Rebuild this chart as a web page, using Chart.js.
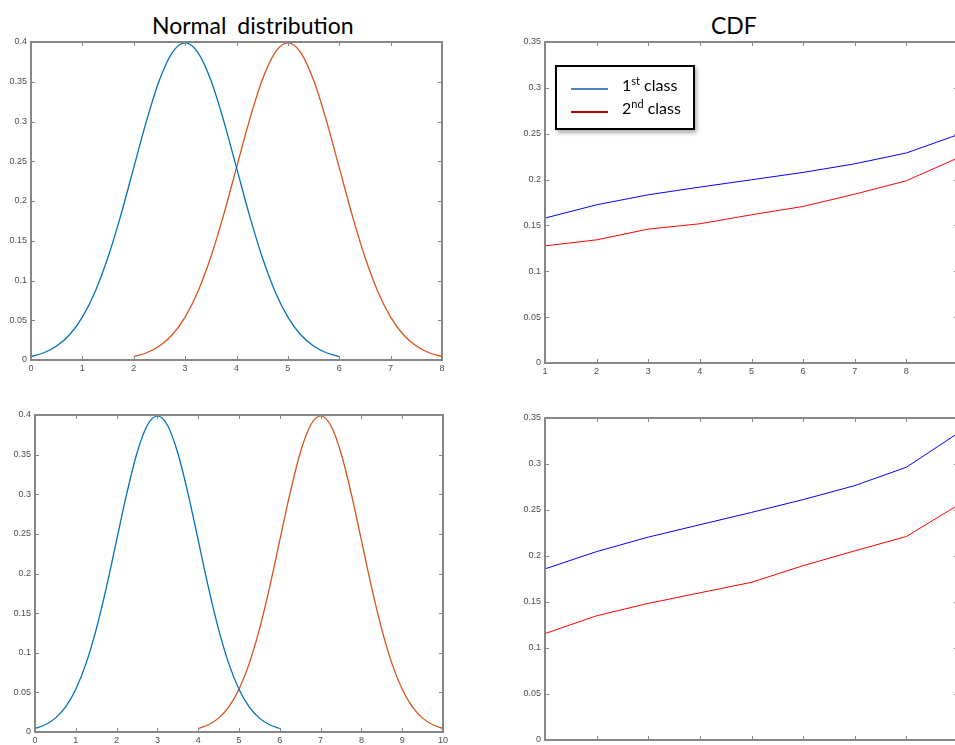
<!DOCTYPE html>
<html>
<head>
<meta charset="utf-8">
<script src="https://cdn.jsdelivr.net/npm/chart.js@4.4.1/dist/chart.umd.min.js"></script>
<style>
    html, body { margin: 0; padding: 0; background: #fff; width: 955px; height: 745px; overflow: hidden; }
    canvas { position: absolute; }
    .title { position: absolute; font-family: Lato, sans-serif; font-size: 23px; line-height: 1; color: #000; white-space: nowrap; word-spacing: 5px; }
    #legend { position: absolute; left: 555px; top: 65px; width: 140px; height: 65px; box-sizing: border-box;
              border: 2px solid #000; background: #fff; box-shadow: 2px 3px 4px rgba(0,0,0,0.3);
              font-family: Lato, sans-serif; font-size: 16px; color: #000; }
    #legend .swatch { position: absolute; left: 14px; width: 37px; height: 2px; }
    #legend .lbl { position: absolute; left: 65px; line-height: 1; white-space: nowrap; }
    #legend .sup { font-size: 11px; vertical-align: 6px; line-height: 0; }
</style>
</head>
<body>
<div class="title" style="left:152px; top:14px">Normal distribution</div>
<div class="title" style="left:711px; top:14px">CDF</div>
<canvas id="topLeft"></canvas>
<canvas id="topRight"></canvas>
<canvas id="bottomLeft"></canvas>
<canvas id="bottomRight"></canvas>
<div id="legend"></div>
<script>
// -------------------------------------------- data
// offsets from the mean, and the bell curve height
const pdfOffsets = [-3, -2.75, -2.5, -2.25, -2, -1.75, -1.5, -1.25, -1, -0.75, -0.5, -0.25, 0,
                    0.25, 0.5, 0.75, 1, 1.25, 1.5, 1.75, 2, 2.25, 2.5, 2.75, 3];
const pdfValues = [0.0044, 0.0091, 0.0175, 0.0317, 0.054, 0.0863, 0.1295, 0.1826, 0.242, 0.3011, 0.3521, 0.3867, 0.3989,
                   0.3867, 0.3521, 0.3011, 0.242, 0.1826, 0.1295, 0.0863, 0.054, 0.0317, 0.0175, 0.0091, 0.0044];
const topMeans = [3, 5];
const bottomMeans = [3, 7];

const cdfX = [1, 2, 3, 4, 5, 6, 7, 8, 9];
const cdfTopFirst = [0.158, 0.1725, 0.1834, 0.1918, 0.1998, 0.2078, 0.2172, 0.229, 0.249];
const cdfTopSecond = [0.1277, 0.1343, 0.146, 0.1518, 0.1616, 0.1707, 0.1841, 0.1987, 0.2237];
const cdfBottomFirst = [0.186, 0.2048, 0.2205, 0.234, 0.2474, 0.2613, 0.2765, 0.2965, 0.3335];
const cdfBottomSecond = [0.1157, 0.135, 0.1485, 0.16, 0.1714, 0.1895, 0.2056, 0.2212, 0.2553];

const classNums = ['1', '2'];
const classSuffix = ['st', 'nd'];
const classNames = ['class', 'class'];

const curveColors = ['#0072BD', '#D95319'];
const cdfColors = ['#0000FF', '#FF0000'];
const legendColors = ['#4F81BD', '#C00000'];

// -------------------------------------------- helpers
const tickFont = { family: 'Liberation Sans', size: 9 };
const tickColor = '#4d4d4d';

// matlab style box with inward ticks on every side
const boxTicks = {
    id: 'boxTicks',
    afterDraw(chart) {
        const { ctx, chartArea: a, scales: { x, y } } = chart;
        ctx.save();
        ctx.strokeStyle = '#868686';
        ctx.lineWidth = 1;
        ctx.beginPath();
        x.ticks.forEach(t => {
            const px = Math.round(x.getPixelForValue(t.value)) + 0.5;
            ctx.moveTo(px, a.bottom); ctx.lineTo(px, a.bottom - 4);
            ctx.moveTo(px, a.top); ctx.lineTo(px, a.top + 4);
        });
        y.ticks.forEach(t => {
            const py = Math.round(y.getPixelForValue(t.value)) + 0.5;
            ctx.moveTo(a.left, py); ctx.lineTo(a.left + 4, py);
            ctx.moveTo(a.right, py); ctx.lineTo(a.right - 4, py);
        });
        ctx.stroke();
        ctx.lineWidth = 2;
        ctx.strokeRect(a.left, a.top, a.right - a.left, a.bottom - a.top);
        ctx.restore();
    }
};

function makePanel(id, box, xMin, xMax, yMax, datasets) {
    const canvas = document.getElementById(id);
    const w = box.right - box.left, h = box.bottom - box.top;
    canvas.style.left = (box.left - 40) + 'px';
    canvas.style.top = (box.top - 10) + 'px';
    canvas.width = w + 50;
    canvas.height = h + 30;
    return new Chart(canvas.getContext('2d'), {
        type: 'line',
        data: { datasets: datasets },
        options: {
            responsive: false,
            animation: false,
            layout: { padding: { top: 10, right: 10, left: 0, bottom: 0 } },
            plugins: { legend: { display: false }, tooltip: { enabled: false } },
            elements: { point: { radius: 0 } },
            scales: {
                x: {
                    type: 'linear', min: xMin, max: xMax,
                    grid: { display: false, drawTicks: false }, border: { display: false },
                    ticks: { stepSize: 1, font: tickFont, color: tickColor, padding: 3, maxRotation: 0, autoSkip: false },
                    afterFit: s => { s.height = 20; }
                },
                y: {
                    min: 0, max: yMax,
                    grid: { display: false, drawTicks: false }, border: { display: false },
                    ticks: { stepSize: 0.05, font: tickFont, color: tickColor, padding: 4,
                             callback: v => String(+v.toFixed(2)) },
                    afterFit: s => { s.width = 40; }
                }
            }
        },
        plugins: [boxTicks]
    });
}

function bell(mean, color) {
    return {
        data: pdfOffsets.map((o, i) => ({ x: mean + o, y: pdfValues[i] })),
        borderColor: color, borderWidth: 1.3, fill: false,
        cubicInterpolationMode: 'monotone'
    };
}

function cdfLine(values, i) {
    return {
        label: classNums[i] + classSuffix[i] + ' ' + classNames[i],
        data: cdfX.map((x, k) => ({ x: x, y: values[k] })),
        borderColor: cdfColors[i], borderWidth: 1, fill: false, tension: 0
    };
}

// -------------------------------------------- normal distribution
makePanel('topLeft', { left: 31, top: 42, right: 442, bottom: 360 }, 0, 8, 0.4,
    topMeans.map((m, i) => bell(m, curveColors[i])));
makePanel('bottomLeft', { left: 35, top: 415, right: 443, bottom: 732 }, 0, 10, 0.4,
    bottomMeans.map((m, i) => bell(m, curveColors[i])));

// -------------------------------------------- CDF (right edge sits just past the picture)
const cdfChart = makePanel('topRight', { left: 545, top: 42, right: 958, bottom: 363 }, 1, 9, 0.35,
    [cdfLine(cdfTopFirst, 0), cdfLine(cdfTopSecond, 1)]);
makePanel('bottomRight', { left: 545, top: 418, right: 958, bottom: 740 }, 1, 9, 0.35,
    [cdfLine(cdfBottomFirst, 0), cdfLine(cdfBottomSecond, 1)]);

// -------------------------------------------- legend
const legend = document.getElementById('legend');
const rowTops = [10, 33];
cdfChart.data.datasets.forEach((ds, i) => {
    const sw = document.createElement('div');
    sw.className = 'swatch';
    sw.style.top = (rowTops[i] + 11) + 'px';
    sw.style.background = legendColors[i];
    legend.appendChild(sw);
    const lbl = document.createElement('div');
    lbl.className = 'lbl';
    lbl.style.top = rowTops[i] + 'px';
    lbl.innerHTML = classNums[i] + '<span class="sup">' + classSuffix[i] + '</span> ' + classNames[i];
    legend.appendChild(lbl);
});
</script>
</body>
</html>
